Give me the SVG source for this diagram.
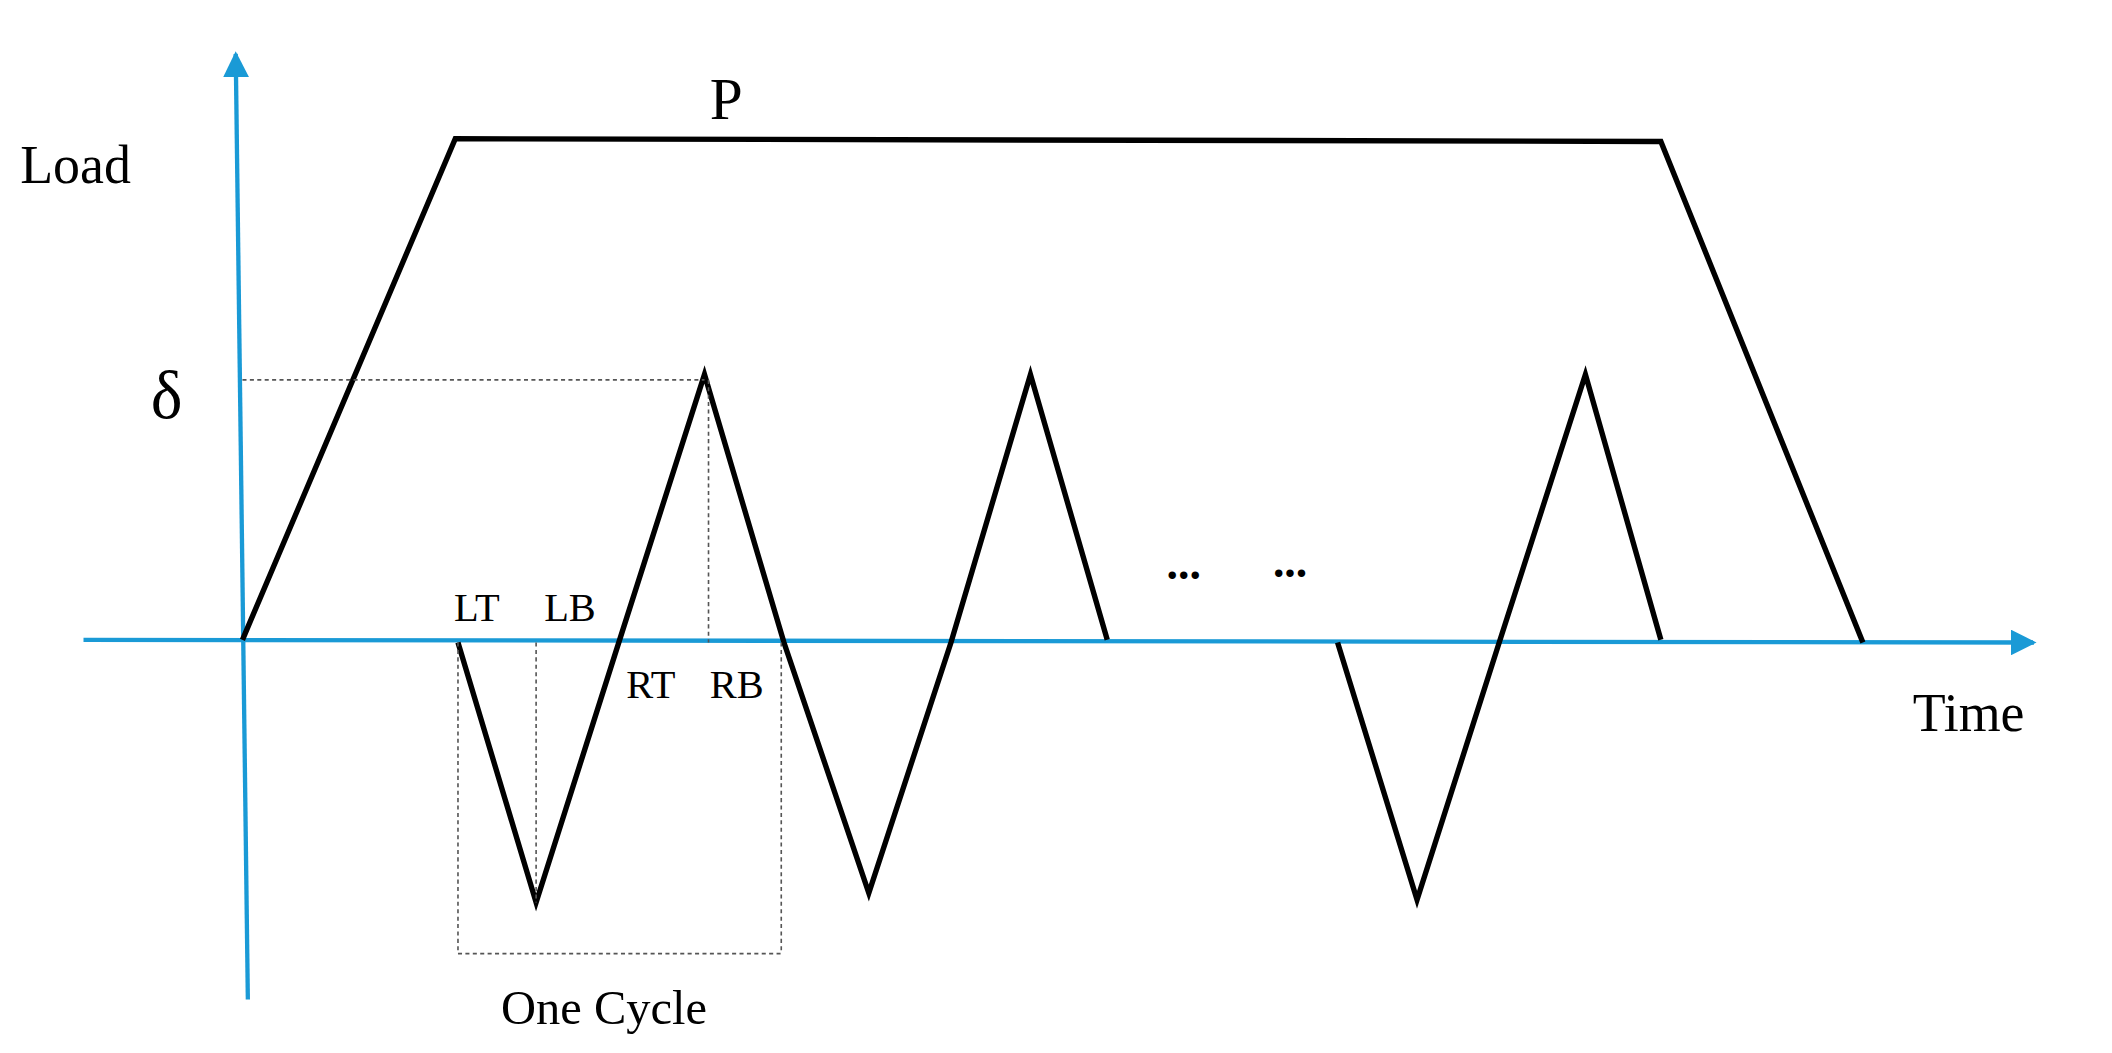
<svg xmlns="http://www.w3.org/2000/svg" width="2112" height="1053" viewBox="0 0 2112 1053">
<style>
.t{font-family:"Liberation Serif",serif;fill:#000}
.k{fill:none;stroke:#000;stroke-width:4;stroke-linejoin:miter}
.d{fill:none;stroke:#555;stroke-width:1.2;stroke-dasharray:3,2.5}
.a{stroke:#1a9ad6;stroke-width:3.2;fill:none}
</style>
<defs><marker id="ar" viewBox="0 0 10 10" refX="9" refY="5" markerWidth="6" markerHeight="6" orient="auto" markerUnits="strokeWidth"><path d="M0,0L10,5L0,10z" fill="#1a9ad6"/></marker></defs>
<rect width="2112" height="1053" fill="#fff"/>
<g transform="scale(1.347)">
<g id="connectors">
<line class="a" x1="184" y1="742" x2="175" y2="40" marker-end="url(#ar)"/>
<line class="a" x1="62" y1="475" x2="1510" y2="477" marker-end="url(#ar)"/>
<polyline class="k" points="180,475 338,103 1233,105 1383,477"/>
<polyline class="k" points="340,477 398,670 460,475 523,278 582,477 645,663 706,477 765,278 822,475"/>
<polyline class="k" points="993,477 1052,668 1113,477 1177,278 1233,475"/>
<path class="d" d="M180,282H523M526,282V477M340,477V708M398,477V670M580,477V708M340,708H580"/>
</g>
<g id="labels">
<text class="t" x="527" y="88" font-size="44">P</text>
<text class="t" x="15" y="136" font-size="40">Load</text>
<text class="t" x="112" y="310" font-size="50">δ</text>
<text class="t" x="337" y="461" font-size="30">LT</text>
<text class="t" x="404" y="461" font-size="30">LB</text>
<text class="t" x="465" y="518" font-size="30">RT</text>
<text class="t" x="527" y="518" font-size="30">RB</text>
<text class="t" x="1420" y="543" font-size="40">Time</text>
<text class="t" x="372" y="760" font-size="36">One Cycle</text>
<text class="t" x="866" y="430" font-size="34" font-weight="bold">...</text>
<text class="t" x="945" y="428" font-size="34" font-weight="bold">...</text>
</g>
</g>
</svg>
